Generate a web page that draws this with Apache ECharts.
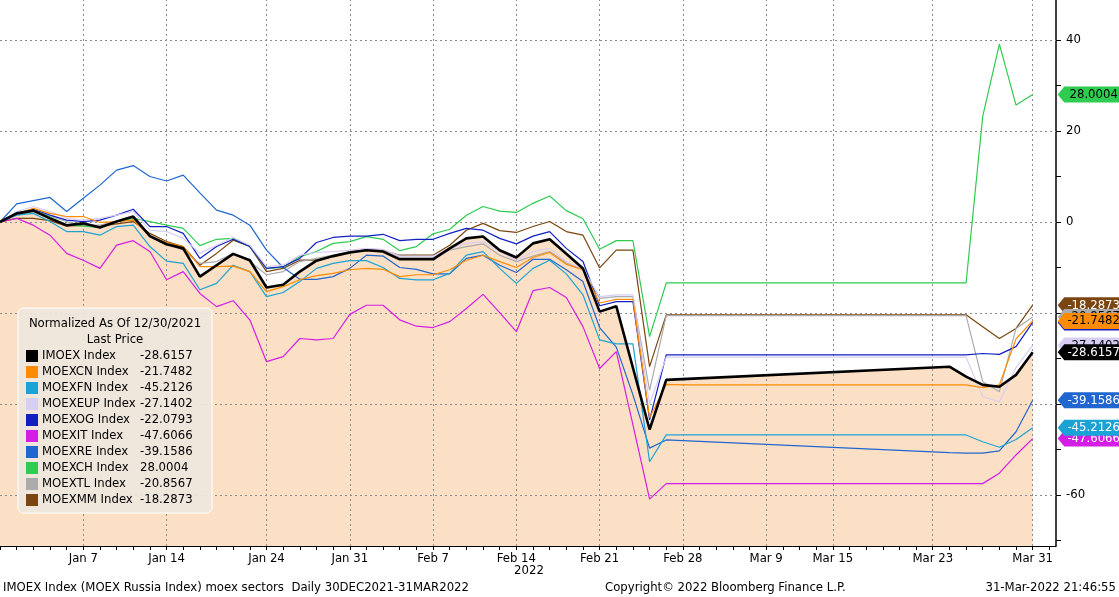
<!DOCTYPE html>
<html><head><meta charset="utf-8">
<script src="https://cdn.jsdelivr.net/npm/echarts@6/dist/echarts.min.js"></script>
<style>html,body{margin:0;padding:0;background:#fff}#c{width:1119px;height:597px}</style>
</head><body><div id="c"></div>
<script>
// ---------- DATA ----------
const dates = ['Dec 30','Jan 3','Jan 4','Jan 5','Jan 6','Jan 7','Jan 10','Jan 11','Jan 12','Jan 13',
 'Jan 14','Jan 17','Jan 18','Jan 19','Jan 20','Jan 21','Jan 24','Jan 25','Jan 26','Jan 27',
 'Jan 28','Jan 31','Feb 1','Feb 2','Feb 3','Feb 4','Feb 7','Feb 8','Feb 9','Feb 10',
 'Feb 11','Feb 14','Feb 15','Feb 16','Feb 17','Feb 18','Feb 21','Feb 22','Feb 23','Feb 24',
 'Feb 25','Feb 28','Mar 1','Mar 2','Mar 3','Mar 4','Mar 9','Mar 10','Mar 11','Mar 14',
 'Mar 15','Mar 16','Mar 17','Mar 18','Mar 21','Mar 22','Mar 23','Mar 24','Mar 25','Mar 28',
 'Mar 29','Mar 30','Mar 31'];
const xTickLabels = ['Jan 7','Jan 14','Jan 24','Jan 31','Feb 7','Feb 14','Feb 21','Feb 28','Mar 9','Mar 15','Mar 23','Mar 31'];
const yTickLabels = [40, 20, 0, -60];
const yTicks = [-70, -60, -50, -40, -30, -20, -10, 0, 10, 20, 30, 40];
const yGrid = [-60, -40, -20, 0, 20, 40];

const IMOEX = [0, 1.9, 2.5, 0.8, -0.7, -0.3, -1.2, 0.1, 1.2, -3.1,
 -4.9, -5.8, -12.0, -9.5, -7.0, -8.4, -14.4, -13.8, -10.9, -8.5,
 -7.5, -6.7, -6.2, -6.5, -8.2, -8.2, -8.2, -5.8, -3.6, -3.2,
 -6.2, -7.8, -4.7, -3.8, -7.0, -10.2, -19.7, -18.5, null, -45.6,
 -34.7, null, null, null, null, null, null, null, null, null,
 null, null, null, null, null, null, null, -31.8, -34.0, -35.8,
 -36.2, -33.6, -28.6157];
const MOEXCN = [0, 1.8, 3.0, 1.9, 1.2, 1.2, -0.1, 0.1, 0.4, -3.1,
 -4.5, -5.4, -9.8, -9.8, -9.7, -10.9, -15.3, -14.2, -12.7, -11.8,
 -11.3, -10.5, -10.2, -10.4, -12.0, -11.6, -11.6, -10.5, -8.4, -7.3,
 -8.7, -10.0, -7.8, -6.7, -9.3, -10.5, -17.8, -17.0, -17.0, -43.0,
 -35.7, -35.8, -35.8, -35.8, -35.8, -35.8, -35.8, -35.8, -35.8, -35.8,
 -35.8, -35.8, -35.8, -35.8, -35.8, -35.8, -35.8, -35.8, -35.8, -36.4,
 -35.8, -25.7, -21.7482];
const MOEXFN = [0, 1.5, 1.9, 0.1, -2.1, -2.1, -2.9, -1.0, -0.7, -5.4,
 -8.6, -9.1, -14.9, -13.5, -9.5, -10.9, -16.4, -15.5, -13.1, -10.2,
 -9.1, -8.5, -8.5, -10.0, -12.4, -12.7, -12.7, -11.3, -7.3, -6.5,
 -10.2, -13.5, -10.2, -8.4, -11.4, -16.0, -25.9, -26.8, -26.8, -52.7,
 -46.8, -46.8, -46.8, -46.8, -46.8, -46.8, -46.8, -46.8, -46.8, -46.8,
 -46.8, -46.8, -46.8, -46.8, -46.8, -46.8, -46.8, -46.8, -46.8, -48.3,
 -49.5, -47.8, -45.2126];
const MOEXEUP = [0, 2.3, 3.4, 2.3, 0.8, 0.4, 0.8, 1.5, 2.3, -1.8,
 -2.1, -3.6, -6.9, -5.1, -3.4, -5.1, -9.8, -9.5, -7.3, -6.7,
 -6.5, -6.2, -5.8, -6.0, -7.5, -7.5, -7.5, -5.8, -4.7, -4.3,
 -6.5, -8.4, -6.5, -5.8, -8.7, -10.4, -16.4, -16.0, -16.0, -40.0,
 -29.7, -29.7, -29.7, -29.7, -29.7, -29.7, -29.7, -29.7, -29.7, -29.7,
 -29.7, -29.7, -29.7, -29.7, -29.7, -29.7, -29.7, -29.7, -29.7, -38.4,
 -39.5, -32.0, -27.1402];
const MOEXOG = [0, 1.9, 2.8, 1.5, 0.4, 0.1, 0.4, 1.5, 2.8, -1.0,
 -1.0, -2.5, -8.0, -5.4, -3.8, -5.4, -10.2, -9.8, -8.0, -4.5,
 -3.4, -3.1, -3.1, -2.7, -4.1, -3.8, -3.8, -2.5, -1.4, -1.8,
 -3.6, -4.8, -3.1, -2.1, -5.8, -8.7, -18.4, -17.5, -17.5, -43.5,
 -29.2, -29.2, -29.2, -29.2, -29.2, -29.2, -29.2, -29.2, -29.2, -29.2,
 -29.2, -29.2, -29.2, -29.2, -29.2, -29.2, -29.2, -29.2, -29.2, -28.9,
 -29.1, -27.4, -22.0793];
const MOEXIT = [0, 0.8, -0.7, -2.9, -6.9, -8.4, -10.2, -5.1, -4.1, -6.5,
 -12.7, -10.9, -15.7, -18.6, -17.3, -21.5, -30.7, -29.6, -25.6, -25.9,
 -25.6, -20.3, -18.3, -18.3, -21.5, -22.9, -23.2, -21.9, -19.0, -15.9,
 -19.9, -24.1, -15.1, -14.4, -16.6, -23.0, -32.2, -28.5, -44.6, -60.9,
 -57.5, -57.5, -57.5, -57.5, -57.5, -57.5, -57.5, -57.5, -57.5, -57.5,
 -57.5, -57.5, -57.5, -57.5, -57.5, -57.5, -57.5, -57.5, -57.5, -57.5,
 -55.2, -51.2, -47.6066];
const MOEXRE = [0, 4.0, 4.7, 5.4, 2.3, 5.2, 8.1, 11.4, 12.4, 10.0,
 9.0, 10.3, 6.4, 2.6, 1.5, -0.7, -6.2, -10.0, -12.6, -12.6,
 -12.0, -10.2, -7.3, -7.5, -10.0, -10.4, -11.4, -11.4, -8.0, -7.3,
 -9.5, -11.1, -8.2, -8.2, -10.5, -13.1, -23.2, -27.5, -38.0, -49.7,
 -47.9, null, null, null, null, null, null, null, null, null,
 null, null, null, null, null, null, null, -50.7, -50.8, -50.8,
 -50.3, -46.1, -39.1586];
const MOEXCH = [0, 1.9, 2.6, 1.1, -0.7, -0.9, -1.2, 0.1, 0.8, 0.1,
 -0.7, -1.4, -5.2, -3.8, -3.6, -5.4, -10.2, -10.0, -7.6, -6.5,
 -4.7, -4.3, -3.2, -3.8, -6.3, -5.4, -2.6, -1.6, 1.5, 3.4,
 2.4, 2.1, 4.1, 5.7, 2.5, 0.7, -6.0, -4.1, -4.1, -25.2,
 -13.4, -13.4, -13.4, -13.4, -13.4, -13.4, -13.4, -13.4, -13.4, -13.4,
 -13.4, -13.4, -13.4, -13.4, -13.4, -13.4, -13.4, -13.4, -13.4, 23.2,
 39.1, 25.7, 28.0004];
const MOEXTL = [0, 1.5, 2.3, 1.2, 0.1, -0.7, -0.7, 0.1, 0.8, -3.2,
 -4.7, -6.2, -9.1, -8.7, -6.9, -8.7, -11.6, -10.9, -8.7, -8.0,
 -7.3, -6.5, -6.2, -6.3, -7.8, -7.8, -7.8, -6.2, -5.4, -4.8,
 -7.3, -8.7, -7.5, -6.5, -9.0, -10.5, -16.8, -16.4, -16.4, -37.0,
 -20.6, -20.6, -20.6, -20.6, -20.6, -20.6, -20.6, -20.6, -20.6, -20.6,
 -20.6, -20.6, -20.6, -20.6, -20.6, -20.6, -20.6, -20.6, -20.6, -35.1,
 -37.3, -23.4, -20.8567];
const MOEXMM = [0, 0.8, 0.8, 0.3, -0.9, -0.7, -0.9, -0.4, 0.1, -2.5,
 -4.3, -5.4, -9.5, -6.9, -4.0, -5.4, -10.9, -10.2, -8.4, -8.4,
 -7.5, -6.5, -6.2, -6.2, -7.3, -7.3, -7.3, -5.1, -1.8, -0.3,
 -1.9, -2.3, -1.0, 0.1, -2.1, -2.9, -10.1, -6.2, -6.2, -31.8,
 -20.4, -20.4, -20.4, -20.4, -20.4, -20.4, -20.4, -20.4, -20.4, -20.4,
 -20.4, -20.4, -20.4, -20.4, -20.4, -20.4, -20.4, -20.4, -20.4, -23.0,
 -25.6, -23.4, -18.2873];

const legendNames = ['IMOEX Index','MOEXCN Index','MOEXFN Index','MOEXEUP Index','MOEXOG Index',
 'MOEXIT Index','MOEXRE Index','MOEXCH Index','MOEXTL Index','MOEXMM Index'];
const seriesData = {
 'IMOEX Index': IMOEX, 'MOEXCN Index': MOEXCN, 'MOEXFN Index': MOEXFN, 'MOEXEUP Index': MOEXEUP,
 'MOEXOG Index': MOEXOG, 'MOEXIT Index': MOEXIT, 'MOEXRE Index': MOEXRE, 'MOEXCH Index': MOEXCH,
 'MOEXTL Index': MOEXTL, 'MOEXMM Index': MOEXMM
};

// ---------- STYLE ----------
const FONT = "'DejaVu Sans Condensed','Liberation Sans',sans-serif";
const styles = {
 'IMOEX Index':  {color:'#000000', text:'#ffffff', width:2.6},
 'MOEXCN Index': {color:'#ff8c00', text:'#000000', width:1.2},
 'MOEXFN Index': {color:'#1aa3d4', text:'#ffffff', width:1.2},
 'MOEXEUP Index':{color:'#d8cdf3', text:'#000000', width:1.2},
 'MOEXOG Index': {color:'#1220c2', text:'#ffffff', width:1.2},
 'MOEXIT Index': {color:'#d41ee6', text:'#ffffff', width:1.2},
 'MOEXRE Index': {color:'#1f66d0', text:'#ffffff', width:1.2},
 'MOEXCH Index': {color:'#2fcc52', text:'#000000', width:1.2},
 'MOEXTL Index': {color:'#ababab', text:'#000000', width:1.2},
 'MOEXMM Index': {color:'#7a4510', text:'#ffffff', width:1.2}
};
const drawOrder = legendNames.slice().reverse();
const lastIdx = dates.length - 1;

function pairs(arr){ const out=[]; arr.forEach((v,i)=>{ if(v!==null) out.push([i,v]); }); return out; }
function lastStr(name){ const a=seriesData[name]; return a[a.length-1].toFixed(4); }

const gridLines = xTickLabels.map(l => ({xAxis: dates.indexOf(l)})).concat(yGrid.map(v => ({yAxis: v})));

const series = [{
 type:'line', name:'_fill', data: pairs(IMOEX), symbol:'none', silent:true, z:1,
 lineStyle:{width:0}, areaStyle:{color:'#fce0c5', opacity:1, origin:'start'}, connectNulls:true,
 markLine:{silent:true, symbol:'none', z:2, label:{show:false},
   lineStyle:{color:'#8c8c8c', type:[2,3], width:1}, emphasis:{disabled:true}, data: gridLines}
}];
drawOrder.forEach((name, k) => {
 const st = styles[name];
 const arr = seriesData[name];
 series.push({
  type:'line', name, data: pairs(arr), symbol:'none', showSymbol:false, z:3, connectNulls:true,
  lineStyle:{color:st.color, width:st.width}, itemStyle:{color:st.color},
  emphasis:{disabled:true},
  markPoint:{
    silent:true, z: 20 + k,
    symbol:'path://M0,8L7,0L70,0L70,16L7,16Z', symbolSize:[66,16], symbolKeepAspect:false,
    symbolOffset:[58,0],
    itemStyle:{color:st.color},
    label:{show:true, position:'inside', offset:[3,0], color:st.text, fontFamily:FONT, fontSize:13,
      formatter: () => lastStr(name)},
    data:[{coord:[lastIdx, arr[lastIdx]]}]
  }
 });
});

const chart = echarts.init(document.getElementById('c'));
chart.setOption({
 animation:false,
 backgroundColor:'#ffffff',
 grid:{left:0, right:63, top:0, bottom:51, containLabel:false, outerBoundsMode:'none'},
 xAxis:{
  type:'value', min:0, max:63.4, interval:1,
  axisLine:{show:true, onZero:false, lineStyle:{color:'#000', width:1}},
  axisTick:{show:true, length:4, lineStyle:{color:'#000', width:1}},
  axisLabel:{color:'#000', fontFamily:FONT, fontSize:13, margin:6, showMaxLabel:false,
    formatter: v => (Number.isInteger(v) && xTickLabels.includes(dates[v])) ? dates[v] : ''},
  splitLine:{show:false}
 },
 yAxis:{
  type:'value', position:'right', min:-71.21, max:48.79,
  axisLine:{show:true, onZero:false, lineStyle:{color:'#000', width:1.5}},
  axisTick:{show:true, customValues:yTicks, length:5, lineStyle:{color:'#000', width:1}},
  axisLabel:{customValues:yTickLabels, color:'#000', fontFamily:FONT, fontSize:13, margin:10},
  splitLine:{show:false}
 },
 legend:{
  data: legendNames, orient:'vertical', left:26, top:348, padding:0, itemWidth:12, itemHeight:12, itemGap:0,
  icon:'rect', selectedMode:false, z:12,
  textStyle:{fontFamily:FONT, fontSize:13, color:'#000', lineHeight:16, padding:[0,0,0,-1],
    rich:{n:{width:98, fontFamily:FONT, fontSize:13, color:'#000'}, v:{fontFamily:FONT, fontSize:13, color:'#000'}}},
  formatter: name => '{n|' + name + '}{v|' + lastStr(name) + '}'
 },
 graphic:[
  {type:'rect', z:10, silent:true, shape:{x:18, y:308, width:194, height:205, r:5},
   style:{fill:'rgba(238,230,221,0.95)', stroke:'#ffffff', lineWidth:1}},
  {type:'text', z:11, x:115, y:324, silent:true,
   style:{text:'Normalized As Of 12/30/2021', font:'13px '+FONT, fill:'#000', textAlign:'center', verticalAlign:'middle'}},
  {type:'text', z:11, x:115, y:340, silent:true,
   style:{text:'Last Price', font:'13px '+FONT, fill:'#000', textAlign:'center', verticalAlign:'middle'}},
  {type:'text', x:529, y:571, silent:true,
   style:{text:'2022', font:'13px '+FONT, fill:'#000', textAlign:'center', verticalAlign:'middle'}},
  {type:'text', x:3, y:588, silent:true,
   style:{text:'IMOEX Index (MOEX Russia Index) moex sectors  Daily 30DEC2021-31MAR2022', font:'13px '+FONT, fill:'#000', textAlign:'left', verticalAlign:'middle'}},
  {type:'text', x:605, y:588, silent:true,
   style:{text:'Copyright\u00a9 2022 Bloomberg Finance L.P.', font:'13px '+FONT, fill:'#000', textAlign:'left', verticalAlign:'middle'}},
  {type:'text', x:1116, y:588, silent:true,
   style:{text:'31-Mar-2022 21:46:55', font:'13px '+FONT, fill:'#000', textAlign:'right', verticalAlign:'middle'}}
 ],
 series
});
</script>
</body></html>
